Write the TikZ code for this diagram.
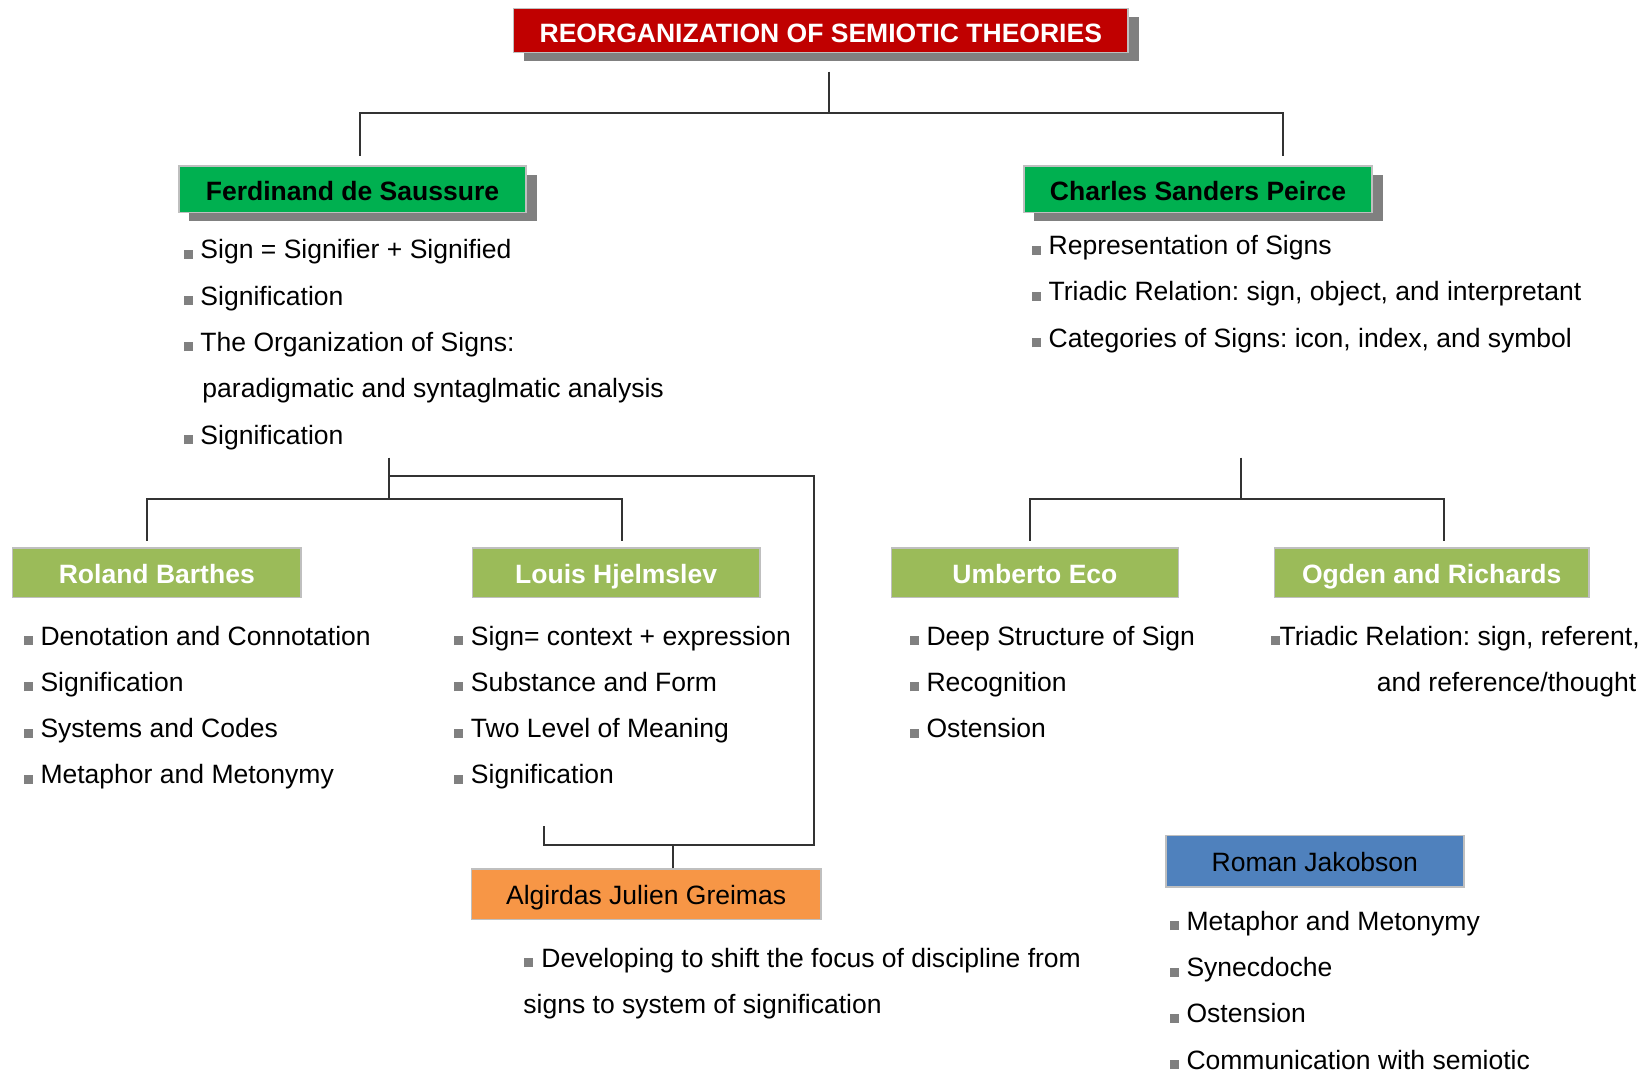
\documentclass[tikz,border=0pt]{standalone}
\usepackage{fontspec}
\setmainfont{Liberation Sans}
\usetikzlibrary{shadows}

\definecolor{titlered}{HTML}{C00000}
\definecolor{sgreen}{HTML}{00B050}
\definecolor{lgreen}{HTML}{9BBB59}
\definecolor{gorange}{HTML}{F79646}
\definecolor{jblue}{HTML}{4F81BD}
\definecolor{shadowgray}{HTML}{808080}
\definecolor{boxgray}{HTML}{BFBFBF}
\definecolor{bulgray}{HTML}{808080}

\newcommand{\txtsize}{\fontsize{12.6pt}{15pt}\selectfont}
\newcommand{\bulsq}{\textcolor{bulgray}{\rule{0.34em}{0.34em}}}
\newcommand{\bul}{\bulsq\hspace{0.3em}}
\frenchspacing

\begin{document}
\begin{tikzpicture}[x=0.5pt,y=-0.5pt,
    every node/.style={font=\txtsize},
    hdr/.style={draw=boxgray, line width=0.75pt, inner sep=0pt, text height=10pt, text depth=0pt, font=\txtsize\bfseries},
    plainhdr/.style={draw=boxgray, line width=0.75pt, inner sep=0pt, text height=10pt, text depth=0pt, font=\txtsize},
    shadowbox/.style={drop shadow={shadow xshift=5pt, shadow yshift=-4pt, fill=shadowgray, opacity=1}},
    item/.style={anchor=base west, inner sep=0pt},
    conn/.style={draw=black!80, line width=0.95pt}]
\useasboundingbox (0,0) rectangle (1568,1020);

% headers
\node[hdr, shadowbox, fill=titlered, text=white, minimum width=292pt, minimum height=21pt, text height=11pt] (title) at (780,29) {REORGANIZATION OF SEMIOTIC THEORIES};
\node[hdr, shadowbox, fill=sgreen, minimum width=165pt, minimum height=22pt, text height=11pt] (sau) at (335,180) {Ferdinand de Saussure};
\node[hdr, shadowbox, fill=sgreen, minimum width=165.5pt, minimum height=22pt, text height=11pt] (pei) at (1138.5,180) {Charles Sanders Peirce};
\node[hdr, fill=lgreen, text=white, minimum width=137pt, minimum height=23.5pt] (bar) at (149,544.5) {Roland Barthes};
\node[hdr, fill=lgreen, text=white, minimum width=136.5pt, minimum height=23.5pt] (hje) at (585.5,544.5) {Louis Hjelmslev};
\node[hdr, fill=lgreen, text=white, minimum width=136.5pt, minimum height=23.5pt] (eco) at (983.5,544.5) {Umberto Eco};
\node[hdr, fill=lgreen, text=white, minimum width=149.5pt, minimum height=23.5pt] (ogd) at (1360.5,544.5) {Ogden and Richards};
\node[plainhdr, fill=gorange, minimum width=166pt, minimum height=24pt] (gre) at (614,850) {Algirdas Julien Greimas};
\node[plainhdr, fill=jblue, minimum width=141.5pt, minimum height=24.5pt] (jak) at (1249.5,818.5) {Roman Jakobson};

% Saussure
\node[item] (sau1) at (174,246) {\bul Sign = Signifier + Signified};
\node[item] (sau2) at (174,290) {\bul Signification};
\node[item] (sau3) at (174,334) {\bul The Organization of Signs:};
\node[item] (sau4) at (192,378) {paradigmatic and syntaglmatic analysis};
\node[item] (sau5) at (174,422) {\bul Signification};

% Peirce
\node[item] (pei1) at (980,242) {\bul Representation of Signs};
\node[item] (pei2) at (980,286) {\bul Triadic Relation: sign, object, and interpretant};
\node[item] (pei3) at (980,330) {\bul Categories of Signs: icon, index, and symbol};

% Barthes
\node[item] (bar1) at (22,613) {\bul Denotation and Connotation};
\node[item] (bar2) at (22,657) {\bul Signification};
\node[item] (bar3) at (22,701) {\bul Systems and Codes};
\node[item] (bar4) at (22,745) {\bul Metaphor and Metonymy};

% Hjelmslev
\node[item] (hje1) at (431,613) {\bul Sign= context + expression};
\node[item] (hje2) at (431,657) {\bul Substance and Form};
\node[item] (hje3) at (431,701) {\bul Two Level of Meaning};
\node[item] (hje4) at (431,745) {\bul Signification};

% Eco
\node[item] (eco1) at (864,613) {\bul Deep Structure of Sign};
\node[item] (eco2) at (864,657) {\bul Recognition};
\node[item] (eco3) at (864,701) {\bul Ostension};

% Ogden and Richards
\node[item] (ogd1) at (1207,613) {\bulsq Triadic Relation: sign, referent,};
\node[item] (ogd2) at (1308,657) {and reference/thought};

% Greimas
\node[item] (gre1) at (498,919) {\bul Developing to shift the focus of discipline from};
\node[item] (gre2) at (497,963) {signs to system of signification};

% Jakobson
\node[item] (jak1) at (1111,884) {\bul Metaphor and Metonymy};
\node[item] (jak2) at (1111,928) {\bul Synecdoche};
\node[item] (jak3) at (1111,972) {\bul Ostension};
\node[item] (jak4) at (1111,1016) {\bul Communication with semiotic};

% connectors
\coordinate (ttop) at (788,68);
\coordinate (tfork) at (788,107);
\coordinate (sauin) at (342,148);
\coordinate (peiin) at (1219,148);
\draw[conn] (ttop) -- (tfork) -| (sauin);
\draw[conn] (tfork) -| (peiin);

\coordinate (sauout) at (370,435);
\coordinate (sauloop) at (370,452);
\coordinate (saufork) at (370,474);
\coordinate (barin) at (140,514);
\coordinate (hjein) at (591,514);
\coordinate (grecorner) at (774,803);
\coordinate (hjeout) at (517,785);
\draw[conn] (sauout) -- (saufork) -| (barin);
\draw[conn] (saufork) -| (hjein);
\draw[conn] (sauloop) -| (grecorner) -| (hjeout);
\draw[conn] ([xshift=13pt]gre.north) -- ([xshift=13pt]gre.north |- grecorner);

\coordinate (peiout) at (1179,435);
\coordinate (peifork) at (1179,474);
\coordinate (ecoin) at (979,514);
\coordinate (ogdin) at (1372,514);
\draw[conn] (peiout) -- (peifork) -| (ecoin);
\draw[conn] (peifork) -| (ogdin);
\end{tikzpicture}
\end{document}
